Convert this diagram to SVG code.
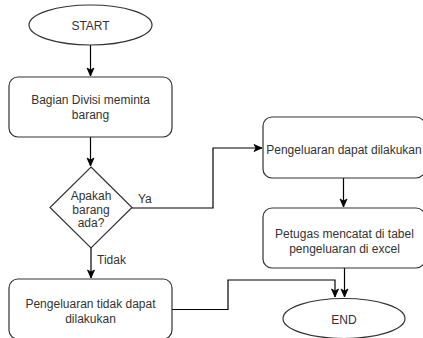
<svg xmlns="http://www.w3.org/2000/svg" width="423" height="338" viewBox="0 0 423 338">
  <style>
    .shape { fill: #ffffff; stroke: #333333; stroke-width: 1.2; }
    .label { font-family: "Liberation Sans", Arial, sans-serif; font-size: 12px; fill: #333333; text-anchor: middle; dominant-baseline: central; }
    .edge { fill: none; stroke: #000000; stroke-width: 1.2; marker-end: url(#arrow); }
    .edge-label { font-family: "Liberation Sans", Arial, sans-serif; font-size: 12px; fill: #333333; dominant-baseline: central; }
  </style>
  <defs>
    <marker id="arrow" markerUnits="userSpaceOnUse" markerWidth="10" markerHeight="10" viewBox="0 0 10 10" refX="9" refY="5" orient="auto">
      <path d="M1,1.5 L9,5 L1,8.5 L3,5 Z" fill="#000000" stroke="#000000" stroke-width="0.8"/>
    </marker>
  </defs>
  <rect width="423" height="338" fill="#ffffff"/>

  <g id="connectors">
    <path class="edge" d="M90.5,45 V76"/>
    <path class="edge" d="M90.5,137 V166"/>
    <path class="edge" d="M132,208 H213 V148 H262"/>
    <path class="edge" d="M91,248 V278"/>
    <path class="edge" d="M343.5,178 V207"/>
    <path class="edge" d="M344.5,268 V297"/>
    <path class="edge" d="M172,309.5 H228 V280 H335 V297"/>
    <text class="edge-label" x="138" y="199">Ya</text>
    <text class="edge-label" x="97" y="260">Tidak</text>
  </g>

  <g id="start">
    <ellipse class="shape" cx="90.5" cy="25" rx="61.5" ry="20"/>
    <text class="label" x="90.5" y="26">START</text>
  </g>

  <g id="bagian-divisi">
    <rect class="shape" x="9" y="77" width="163" height="60" rx="9"/>
    <text class="label" x="90.5" y="100">Bagian Divisi meminta</text>
    <text class="label" x="90.5" y="115">barang</text>
  </g>

  <g id="apakah-barang-ada">
    <path class="shape" d="M91,167 L132,207.5 L91,248 L50,207.5 Z"/>
    <text class="label" x="91" y="195.5">Apakah</text>
    <text class="label" x="91" y="209.5">barang</text>
    <text class="label" x="91" y="223">ada?</text>
  </g>

  <g id="pengeluaran-dapat">
    <rect class="shape" x="263" y="117" width="162" height="61" rx="9"/>
    <text class="label" x="344" y="150">Pengeluaran dapat dilakukan</text>
  </g>

  <g id="petugas-mencatat">
    <rect class="shape" x="263" y="208" width="162" height="60" rx="9"/>
    <text class="label" x="344.5" y="234">Petugas mencatat di tabel</text>
    <text class="label" x="344.5" y="249">pengeluaran di excel</text>
  </g>

  <g id="pengeluaran-tidak-dapat">
    <rect class="shape" x="9" y="279" width="163" height="60" rx="9"/>
    <text class="label" x="90.5" y="304">Pengeluaran tidak dapat</text>
    <text class="label" x="90.5" y="318.5">dilakukan</text>
  </g>

  <g id="end">
    <ellipse class="shape" cx="344" cy="318.5" rx="61" ry="20"/>
    <text class="label" x="344" y="320">END</text>
  </g>
</svg>
